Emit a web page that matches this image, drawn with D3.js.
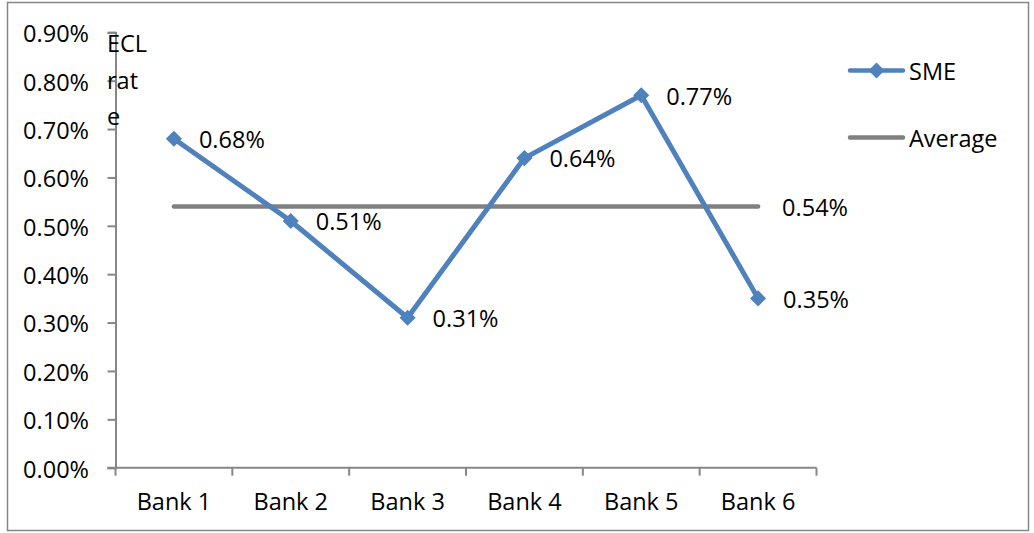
<!DOCTYPE html>
<html>
<head>
<meta charset="utf-8">
<script src="https://cdn.jsdelivr.net/npm/d3@7"></script>
<style>
  html, body { margin: 0; padding: 0; background: #fff; }
  svg { display: block; }
  text { font-family: "Open Sans", "Noto Sans", sans-serif; fill: #000; }
</style>
</head>
<body>
<svg id="chart" width="1034" height="533"></svg>
<script>
// Chart data
const banks = ["Bank 1", "Bank 2", "Bank 3", "Bank 4", "Bank 5", "Bank 6"];
const smeRates = [0.68, 0.51, 0.31, 0.64, 0.77, 0.35];   // percent
const averageRate = 0.54;                                  // percent
const yTicks = [0, 0.1, 0.2, 0.3, 0.4, 0.5, 0.6, 0.7, 0.8, 0.9];
const titleLines = ["ECL", "rat", "e"];
const legendItems = ["SME", "Average"];

const svg = d3.select("#chart");
const blue = "#4F81BD";
const grey = "#808080";
const axisGrey = "#868686";
const fontSize = 23.5;

// Outer frame
svg.append("rect")
  .attr("x", 7.5).attr("y", 2.5)
  .attr("width", 1021).attr("height", 528)
  .attr("fill", "none").attr("stroke", axisGrey).attr("stroke-width", 1.5);

const plot = { left: 115.5, right: 816.5, top: 32.3, bottom: 467.7 };

const x = d3.scaleBand().domain(banks).range([plot.left, plot.right]).padding(0);
const y = d3.scaleLinear().domain([0, 0.9]).range([plot.bottom, plot.top]);
const cx = d => x(d) + x.bandwidth() / 2;

// Y axis
const yAxis = svg.append("g")
  .attr("transform", `translate(${plot.left},0)`)
  .call(d3.axisLeft(y).tickValues(yTicks).tickSize(8).tickPadding(18.5)
    .tickFormat(d => d.toFixed(2) + "%"));
yAxis.select(".domain").attr("stroke", axisGrey).attr("stroke-width", 2);
yAxis.selectAll(".tick line").attr("stroke", axisGrey).attr("stroke-width", 2);
yAxis.selectAll(".tick text")
  .attr("font-size", fontSize).attr("font-family", "Open Sans").attr("fill", "#000")
  .attr("dy", "0.4em");

// X axis: ticks sit on band edges, labels at band centres
const xAxis = svg.append("g")
  .attr("transform", `translate(0,${plot.bottom})`);
xAxis.append("line")
  .attr("x1", plot.left - 8).attr("x2", plot.right)
  .attr("stroke", axisGrey).attr("stroke-width", 2);
const edges = banks.map(b => x(b)).concat([plot.right]);
xAxis.selectAll("line.edge").data(edges).enter().append("line")
  .attr("class", "edge")
  .attr("x1", d => d).attr("x2", d => d)
  .attr("y1", 0).attr("y2", 8)
  .attr("stroke", axisGrey).attr("stroke-width", 2);
xAxis.selectAll("text.cat").data(banks).enter().append("text")
  .attr("class", "cat")
  .attr("x", d => cx(d)).attr("y", 42.5)
  .attr("text-anchor", "middle").attr("font-size", fontSize)
  .text(d => d);

// Axis title, stacked in three lines
svg.append("g").selectAll("text").data(titleLines).enter().append("text")
  .attr("x", 107).attr("y", (d, i) => 52 + i * 36.5)
  .attr("font-size", fontSize)
  .text(d => d);

// Average line
const avgLine = d3.line().x(d => cx(d)).y(() => y(averageRate));
svg.append("path")
  .datum(banks)
  .attr("d", avgLine)
  .attr("fill", "none").attr("stroke", grey).attr("stroke-width", 4.5)
  .attr("stroke-linecap", "round");

// SME line
const smeLine = d3.line().x((d, i) => cx(banks[i])).y(d => y(d));
svg.append("path")
  .datum(smeRates)
  .attr("d", smeLine)
  .attr("fill", "none").attr("stroke", blue).attr("stroke-width", 5)
  .attr("stroke-linejoin", "round");

const diamond = d3.symbol().type(d3.symbolDiamond2).size(165);
svg.append("g").selectAll("path").data(smeRates).enter().append("path")
  .attr("d", diamond)
  .attr("transform", (d, i) => `translate(${cx(banks[i])},${y(d)})`)
  .attr("fill", blue);

// Data labels
svg.append("g").selectAll("text").data(smeRates).enter().append("text")
  .attr("x", (d, i) => cx(banks[i]) + 25)
  .attr("y", d => y(d))
  .attr("dy", "0.4em")
  .attr("font-size", fontSize)
  .text(d => d.toFixed(2) + "%");

svg.append("text")
  .attr("x", cx(banks[banks.length - 1]) + 24)
  .attr("y", y(averageRate))
  .attr("dy", "0.4em")
  .attr("font-size", fontSize)
  .text(averageRate.toFixed(2) + "%");

// Legend
const legend = svg.append("g");
const legendY = [70.5, 137.5];
const legendColors = [blue, grey];
legendItems.forEach((name, i) => {
  legend.append("line")
    .attr("x1", 850).attr("x2", 903)
    .attr("y1", legendY[i]).attr("y2", legendY[i])
    .attr("stroke", legendColors[i]).attr("stroke-width", 4.5)
    .attr("stroke-linecap", "round");
  if (i === 0) {
    legend.append("path")
      .attr("d", diamond)
      .attr("transform", `translate(876.5,${legendY[i]})`)
      .attr("fill", blue);
  }
  legend.append("text")
    .attr("x", 909).attr("y", legendY[i])
    .attr("dy", "0.4em")
    .attr("font-size", fontSize)
    .text(name);
});
</script>
</body>
</html>
